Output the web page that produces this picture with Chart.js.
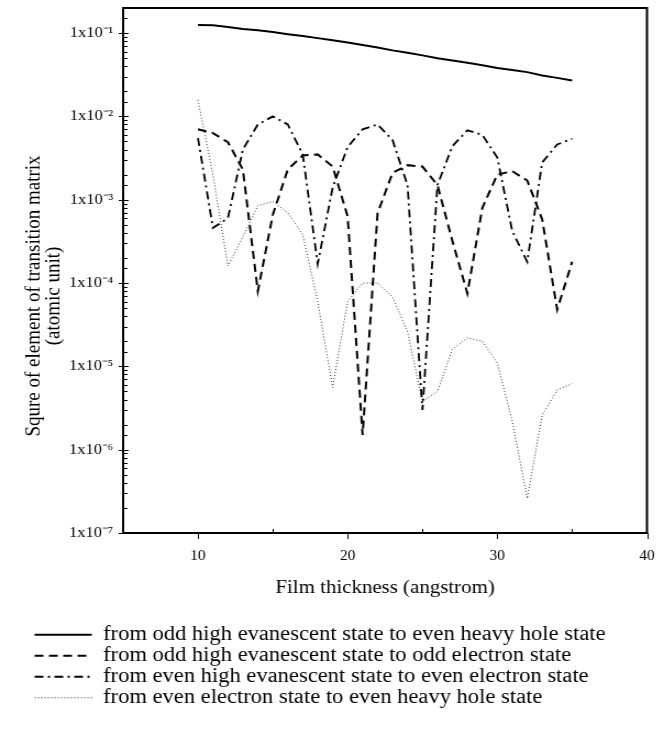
<!DOCTYPE html>
<html>
<head>
<meta charset="utf-8">
<title>Transition matrix vs film thickness</title>
<script src="https://cdn.jsdelivr.net/npm/chart.js@4.4.0/dist/chart.umd.min.js"></script>
<style>
  html, body { margin: 0; padding: 0; background: #fff; }
  #chart { display: block; }
</style>
</head>
<body>
<!-- the scanned figure is slightly wider than tall, so the canvas is stretched sideways -->
<canvas id="chart" width="604" height="732" style="width:664px;height:732px"></canvas>
<script>
// film thickness (angstrom)
const thickness = [10, 11, 12, 13, 14, 15, 16, 17, 18, 19, 20, 21, 22, 23, 24, 25, 26, 27, 28, 29, 30, 31, 32, 33, 34, 35];

// squared transition matrix elements (atomic unit)
const oddEvanToEvenHeavy = [0.125, 0.124, 0.118, 0.112, 0.108, 0.103, 0.097, 0.092, 0.087, 0.082, 0.077, 0.072, 0.067,
  0.062, 0.058, 0.054, 0.050, 0.047, 0.044, 0.041, 0.038, 0.036, 0.034, 0.031, 0.029, 0.027];
const oddEvanToOddElectron = [7e-3, 6.3e-3, 4.9e-3, 2.3e-3, 8e-5, 6.6e-4, 2.3e-3, 3.4e-3, 3.5e-3, 2.5e-3, 6.3e-4, 1.5e-6, 6.9e-4,
  2.1e-3, 2.6e-3, 2.5e-3, 1.5e-3, 3.2e-4, 7.5e-5, 8e-4, 2e-3, 2.2e-3, 1.7e-3, 5.8e-4, 4.8e-5, 1.8e-4];
const evenEvanToEvenElectron = [5.5e-3, 4.6e-4, 6e-4, 4e-3, 8e-3, 1e-2, 8e-3, 3.5e-3, 1.7e-4, 1.4e-3, 4.3e-3, 7e-3, 8e-3,
  5.2e-3, 1.5e-3, 3e-6, 1.5e-3, 4.4e-3, 6.8e-3, 6e-3, 3.2e-3, 4.2e-4, 1.8e-4, 2.8e-3, 4.6e-3, 5.4e-3];
const evenElectronToEvenHeavy = [1.58e-2, 2e-3, 1.6e-4, 3.6e-4, 8.5e-4, 9.5e-4, 7e-4, 3.8e-4, 6e-5, 5.6e-6, 6e-5, 1e-4, 1e-4,
  6.8e-5, 2.6e-5, 3.8e-6, 5e-6, 1.6e-5, 2.2e-5, 2e-5, 1.1e-5, 2.2e-6, 2.6e-7, 2.6e-6, 5.2e-6, 6.2e-6];

const seriesNames = [
  'from odd high evanescent state to even heavy hole state',
  'from odd high evanescent state to odd electron state',
  'from even high evanescent state to even electron state',
  'from even electron state to even heavy hole state'
];

const yTickValues = [1e-7, 1e-6, 1e-5, 1e-4, 1e-3, 1e-2, 1e-1];
const yTickLabels = ['1x10⁻⁷', '1x10⁻⁶', '1x10⁻⁵', '1x10⁻⁴', '1x10⁻³', '1x10⁻²', '1x10⁻¹'];
const xTitle = 'Film thickness (angstrom)';
const yTitle = ['Squre of element of transition matrix', '(atomic unit)'];

const serif = "'Liberation Serif', 'Times New Roman', serif";
Chart.defaults.font.family = serif;
Chart.defaults.color = '#000';

const isPow10 = v => Math.abs(Math.log10(v) - Math.round(Math.log10(v))) < 1e-6;
const toPoints = vals => thickness.map((t, i) => ({ x: t, y: vals[i] }));

function line(label, vals, dash, width, color) {
  return {
    label,
    data: toPoints(vals),
    borderColor: color,
    backgroundColor: color,
    borderWidth: width,
    borderDash: dash,
    pointRadius: 0,
    tension: 0,
    fill: false
  };
}

// tick marks, frame and the rotated y title
const axisMarks = {
  id: 'axisMarks',
  afterDraw(chart) {
    const { ctx, chartArea: a, scales: { x, y } } = chart;
    ctx.save();
    ctx.strokeStyle = '#000';
    ctx.lineWidth = 1;
    y.ticks.forEach(t => {
      const py = Math.round(y.getPixelForValue(t.value)) + 0.5;
      const major = isPow10(t.value);
      ctx.beginPath();
      ctx.moveTo(a.left - (major ? 4 : 0), py);
      ctx.lineTo(a.left + (major ? 5 : 4), py);
      ctx.stroke();
    });
    x.ticks.forEach(t => {
      const px = Math.round(x.getPixelForValue(t.value)) + 0.5;
      const major = t.value % 10 === 0;
      ctx.beginPath();
      ctx.moveTo(px, major ? a.bottom : a.bottom - 4);
      ctx.lineTo(px, major ? a.bottom + 6 : a.bottom);
      ctx.stroke();
    });
    ctx.lineWidth = 2;
    ctx.strokeRect(a.left, a.top, a.right - a.left, a.bottom - a.top);

    ctx.fillStyle = '#000';
    ctx.font = '19px ' + serif;
    ctx.textAlign = 'center';
    ctx.textBaseline = 'middle';
    ctx.translate(31, 296);
    ctx.rotate(-Math.PI / 2);
    ctx.fillText(yTitle[0], 0, 0);
    ctx.fillText(yTitle[1], 0, 18);
    ctx.restore();
  }
};

new Chart(document.getElementById('chart'), {
  type: 'line',
  data: {
    datasets: [
      line(seriesNames[0], oddEvanToEvenHeavy, [], 2, '#000'),
      line(seriesNames[1], oddEvanToOddElectron, [8, 5], 2, '#000'),
      line(seriesNames[2], evenEvanToEvenElectron, [8, 4, 2, 4], 1.8, '#000'),
      line(seriesNames[3], evenElectronToEvenHeavy, [1, 2], 1, '#333')
    ]
  },
  options: {
    responsive: false,
    animation: false,
    layout: { padding: { top: 8, right: 15.5, bottom: 14, left: 31 } },
    scales: {
      x: {
        type: 'linear',
        min: 5,
        max: 40,
        grid: { display: false, drawTicks: false },
        border: { display: false },
        ticks: {
          stepSize: 5,
          autoSkip: false,
          maxRotation: 0,
          padding: 15,
          font: { size: 14 },
          callback: v => (v % 10 === 0 ? String(v) : '')
        },
        title: {
          display: true,
          text: xTitle,
          font: { size: 19 },
          padding: { top: 0, bottom: 24.6 }
        },
        afterFit: s => { s.height = 91; s.paddingLeft = 0; s.paddingRight = 0; }
      },
      y: {
        type: 'logarithmic',
        min: 1e-7,
        max: 0.2,
        grid: { display: false, drawTicks: false },
        border: { display: false },
        ticks: {
          autoSkip: false,
          padding: 9,
          font: { size: 15 },
          callback: v => {
            const i = yTickValues.findIndex(t => Math.abs(Math.log10(t) - Math.log10(v)) < 1e-6);
            return i >= 0 ? yTickLabels[i] : '';
          }
        },
        afterFit: s => { s.width = 81; s.paddingTop = 0; s.paddingBottom = 0; }
      }
    },
    plugins: {
      legend: {
        position: 'bottom',
        align: 'start',
        labels: {
          usePointStyle: true,
          pointStyle: 'line',
          pointStyleWidth: 52,
          padding: 0.5,
          color: '#000',
          font: { size: 20.5 },
          // carry each dataset's dash pattern into its legend sample
          generateLabels: chart => Chart.defaults.plugins.legend.labels.generateLabels(chart).map(item => {
            const ds = chart.data.datasets[item.datasetIndex];
            item.lineDash = ds.borderDash;
            item.lineWidth = ds.borderWidth;
            item.strokeStyle = ds.borderColor;
            return item;
          })
        }
      },
      tooltip: { enabled: false }
    }
  },
  plugins: [axisMarks]
});
</script>
</body>
</html>
